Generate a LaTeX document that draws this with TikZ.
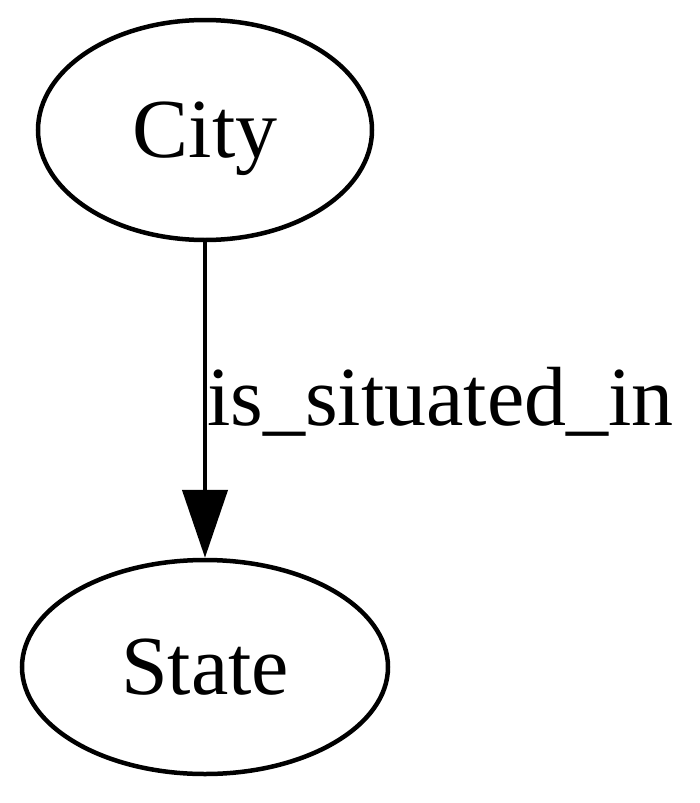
\documentclass[tikz,border=0pt]{standalone}
\usepackage{fontspec}
\setmainfont{Liberation Serif}
\usetikzlibrary{arrows.meta,shapes.geometric}
\begin{document}
\begin{tikzpicture}[x=1pt,y=-1pt,
  gnode/.style={draw,ellipse,line width=4.5pt,inner sep=0pt,text depth=0pt,font=\fontsize{84}{90}\selectfont},
  gedge/.style={line width=4.5pt,-{Triangle[length=68pt,width=45pt]}}]
\useasboundingbox (0,0) rectangle (700,803);
\node[gnode,minimum width=334pt,minimum height=220pt] (city) at (205,130) {City};
\node[gnode,minimum width=366pt,minimum height=214pt] (state) at (205,667) {State};
\draw[gedge] (city) -- (state);
\node[anchor=base west,inner sep=0pt,font=\fontsize{84}{90}\selectfont] (lbl) at (207,425) {is\_situated\_in};
\end{tikzpicture}
\end{document}
